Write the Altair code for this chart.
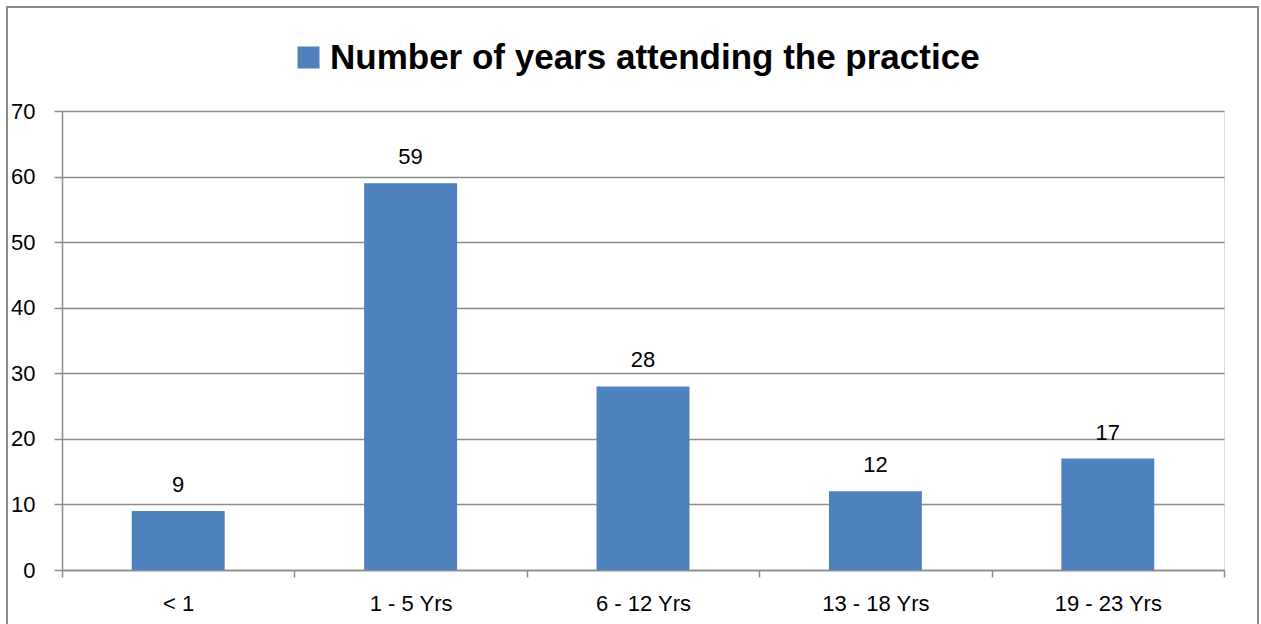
import altair as alt
import pandas as pd

# Chart data
categories = ["< 1", "1 - 5 Yrs", "6 - 12 Yrs", "13 - 18 Yrs", "19 - 23 Yrs"]
counts = [9, 59, 28, 12, 17]
series_name = "Number of years attending the practice"

df = pd.DataFrame({"period": categories, "count": counts, "series": series_name})

FONT = "Liberation Sans"
BAR = "#4F81BD"
GRID = "#8C8C8C"

W, H = 1162, 459
PAD = {"left": 62, "top": 111, "right": 37, "bottom": 54}

x_enc = alt.X(
    "period:N",
    sort=categories,
    title=None,
    scale=alt.Scale(paddingInner=0, paddingOuter=0),
    axis=alt.Axis(
        labelAngle=0,
        labelFont=FONT,
        labelFontSize=22,
        labelColor="#000000",
        labelPadding=16,
        tickBand="extent",
        tickSize=7,
        tickColor=GRID,
        tickWidth=1.5,
        domainColor=GRID,
        domainWidth=1.5,
        grid=False,
    ),
)

y_enc = alt.Y(
    "count:Q",
    title=None,
    scale=alt.Scale(domain=[0, 70], nice=False),
    axis=alt.Axis(
        values=list(range(0, 71, 10)),
        labelFont=FONT,
        labelFontSize=22,
        labelColor="#000000",
        labelPadding=19,
        tickSize=8,
        tickColor=GRID,
        tickWidth=1.5,
        domainColor=GRID,
        domainWidth=1.5,
        grid=True,
        gridColor=GRID,
        gridWidth=1.5,
    ),
)

bars = alt.Chart(df).mark_bar(color=BAR, width=alt.RelativeBandSize(0.4)).encode(
    x=x_enc,
    y=y_enc,
    color=alt.Color(
        "series:N",
        scale=alt.Scale(range=[BAR]),
        legend=alt.Legend(
            title=None,
            orient="none",
            legendX=229,
            legendY=-71,
            symbolType="square",
            symbolSize=484,
            symbolStrokeWidth=0,
            labelFont=FONT,
            labelFontSize=35,
            labelFontWeight="bold",
            labelColor="#000000",
            labelLimit=0,
            labelOffset=4,
        ),
    ),
)

labels = alt.Chart(df).mark_text(
    font=FONT, fontSize=22, color="#000000", baseline="alphabetic", dy=-19
).encode(
    x=alt.X("period:N", sort=categories),
    y="count:Q",
    text="count:Q",
)

# Outer frame around the whole figure
frame = alt.Chart(df).mark_rect(
    fill=None, stroke="#8A8A8A", strokeWidth=2
).encode(
    x=alt.value(-55),
    x2=alt.value(1196),
    y=alt.value(-104),
    y2=alt.value(530),
)

chart = (
    alt.layer(bars, labels, frame)
    .properties(width=W, height=H, padding=PAD, autosize=alt.AutoSizeParams(type="none"))
    .configure_view(stroke=None)
    .configure(background="white")
)

chart.save("out.html", embed_options={"renderer": "svg", "actions": False})
